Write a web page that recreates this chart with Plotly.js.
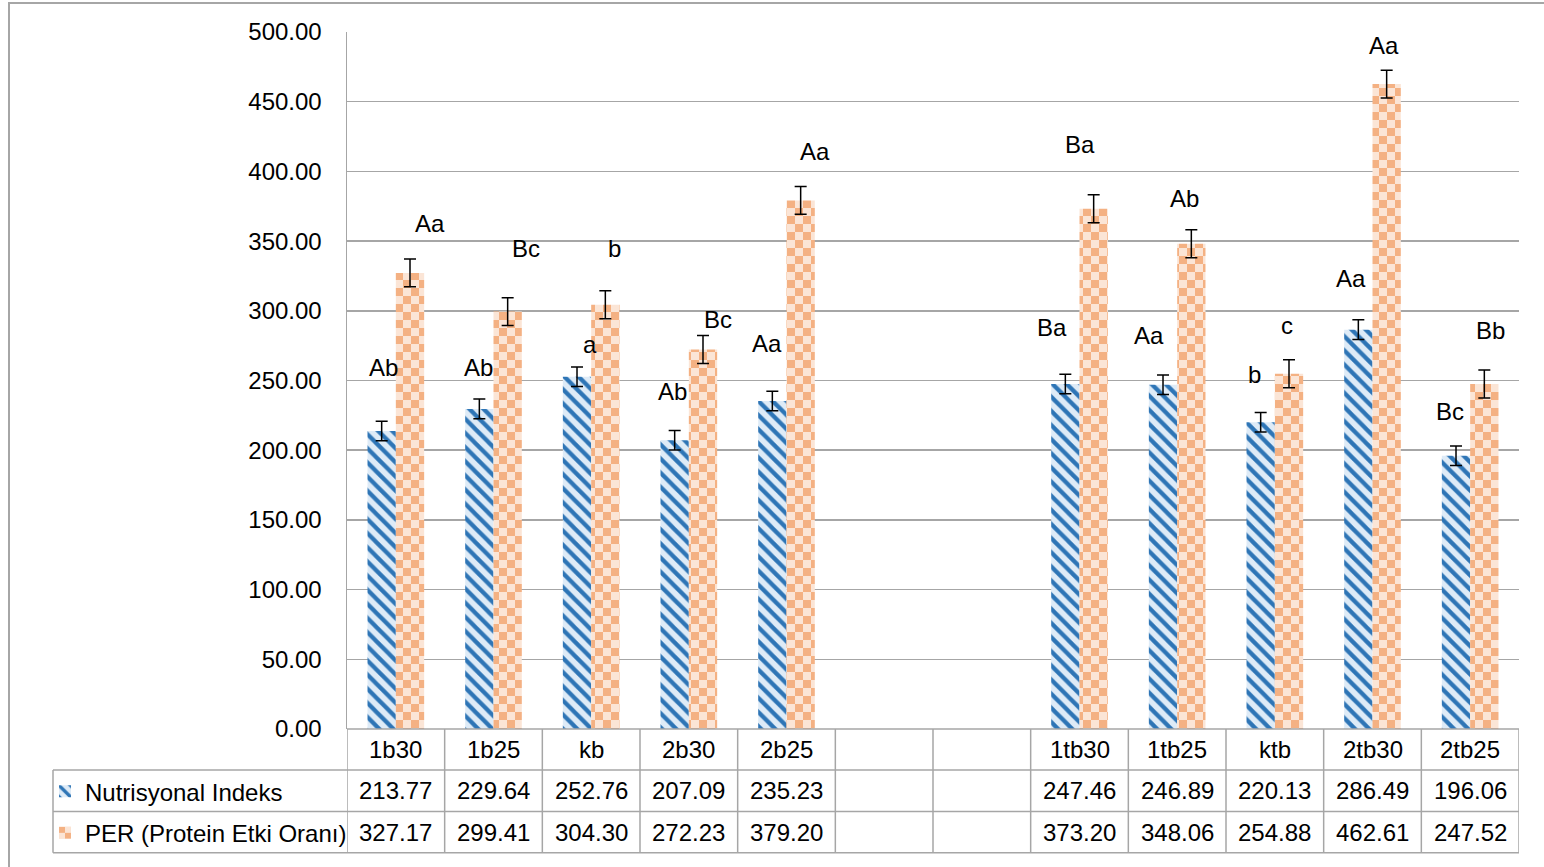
<!DOCTYPE html>
<html>
<head>
<meta charset="utf-8">
<script src="https://cdn.plot.ly/plotly-3.0.1.min.js"></script>
<style>
  html, body { margin: 0; padding: 0; background: #fff; }
  #chart { width: 1544px; height: 867px; }
</style>
</head>
<body>
<div id="chart"></div>
<script>
// Groups (two empty slots separate the "b" and "tb" sets)
const categories = ['1b30', '1b25', 'kb', '2b30', '2b25', '', '', '1tb30', '1tb25', 'ktb', '2tb30', '2tb25'];

const seriesNames = ['Nutrisyonal Indeks', 'PER (Protein Etki Oranı)'];

const nutriValues = [213.77, 229.64, 252.76, 207.09, 235.23, null, null, 247.46, 246.89, 220.13, 286.49, 196.06];
const perValues   = [327.17, 299.41, 304.30, 272.23, 379.20, null, null, 373.20, 348.06, 254.88, 462.61, 247.52];

const nutriErrors = [7, 7, 7, 7, 7, null, null, 7, 7, 7, 7, 7];
const perErrors   = [10, 10, 10, 10, 10, null, null, 10, 10, 10, 10, 10];

// Significance letters
const nutriLetters = ['Ab', 'Ab', 'a', 'Ab', 'Aa', '', '', 'Ba', 'Aa', 'b', 'Aa', 'Bc'];
const perLetters   = ['Aa', 'Bc', 'b', 'Bc', 'Aa', '', '', 'Ba', 'Ab', 'c', 'Aa', 'Bb'];

// Letter placement: [x offset in category units, y in axis units]
const nutriLetterPos = [[-0.13, 259], [-0.15, 259], [-0.01, 276], [-0.17, 242], [-0.20, 276.5], null, null,
                        [-0.28, 288], [-0.29, 282], [-0.21, 254], [-0.22, 323], [-0.21, 228]];
const perLetterPos   = [[0.35, 362.5], [0.33, 345], [0.24, 345], [0.30, 294], [0.29, 414], null, null,
                        [0.005, 419], [0.07, 380.5], [0.12, 289.5], [0.12, 490], [0.21, 286]];

// ---- geometry of the plotting area (pixels) ----
const FIG_W = 1544, FIG_H = 867;
const PL = 347, PR = 1519, PT = 32, PB = 730;
const PW = PR - PL, PH = PB - PT;
const px = v => (v - PL) / PW;      // pixel x -> paper x
const py = v => (PB - v) / PH;      // pixel y -> paper y

const FONT = 'Liberation Sans, Arial, sans-serif';
const GRID = '#A6A6A6';
const BLUE_FG = '#2E75B6', BLUE_BG = '#DEEBF7';
const ORANGE_FG = '#F4B183', ORANGE_BG = '#FBE5D6';

const xIdx = categories.map((_, i) => i);

const traces = [
  {
    type: 'bar', name: seriesNames[0], x: xIdx, y: nutriValues,
    marker: { color: BLUE_BG, line: { width: 0 },
      pattern: { shape: '\\', size: 10, solidity: 0.42, fgcolor: BLUE_FG, bgcolor: BLUE_BG, fillmode: 'replace' } },
    error_y: { type: 'data', array: nutriErrors, color: '#000', thickness: 1.5, width: 6 },
    legend: 'legend', hoverinfo: 'skip'
  },
  {
    type: 'bar', name: seriesNames[1], x: xIdx, y: perValues,
    marker: { color: ORANGE_BG, line: { width: 0 },
      pattern: { shape: '+', size: 16, solidity: 0.5, fgcolor: ORANGE_FG, bgcolor: ORANGE_BG, fillmode: 'replace' } },
    error_y: { type: 'data', array: perErrors, color: '#000', thickness: 1.5, width: 6 },
    legend: 'legend2', hoverinfo: 'skip'
  }
];

// ---- data table under the plot ----
const rowTop = [730, 771, 812.5, 854];      // header / series 1 / series 2 borders
const tableLeft = 53;
const shapes = [];
const lineStyle = { color: GRID, width: 1.5 };

// outer chart frame
shapes.push({ type: 'rect', xref: 'paper', yref: 'paper',
  x0: px(9), x1: px(FIG_W + 5), y0: py(3), y1: py(FIG_H + 5), line: { color: GRID, width: 2 } });

// horizontal rules
shapes.push({ type: 'line', xref: 'paper', yref: 'paper', x0: px(PL), x1: px(PR), y0: py(rowTop[0]), y1: py(rowTop[0]), line: lineStyle });
for (let r = 1; r < rowTop.length; r++) {
  shapes.push({ type: 'line', xref: 'paper', yref: 'paper', x0: px(tableLeft), x1: px(PR),
    y0: py(rowTop[r]), y1: py(rowTop[r]), line: lineStyle });
}
// left edge of the legend column
shapes.push({ type: 'line', xref: 'paper', yref: 'paper', x0: px(tableLeft), x1: px(tableLeft),
  y0: py(rowTop[1]), y1: py(rowTop[3]), line: lineStyle });
// column separators on category boundaries
for (let i = 0; i <= categories.length; i++) {
  shapes.push({ type: 'line', xref: 'x', yref: 'paper', x0: i - 0.5, x1: i - 0.5,
    y0: py(rowTop[0]), y1: py(rowTop[3]), line: lineStyle });
}

const annotations = [];
const cellFont = { family: FONT, size: 24, color: '#000' };
const rowMid = r => py((rowTop[r] + rowTop[r + 1]) / 2);
const cell = (i, r, text) => ({ xref: 'x', yref: 'paper', x: i, y: rowMid(r), text: text,
  showarrow: false, xanchor: 'center', yanchor: 'middle', font: cellFont });

categories.forEach((c, i) => {
  if (c) annotations.push(cell(i, 0, c));
  if (nutriValues[i] != null) annotations.push(cell(i, 1, nutriValues[i].toFixed(2)));
  if (perValues[i] != null) annotations.push(cell(i, 2, perValues[i].toFixed(2)));
});

// significance letters above the bars
function addLetters(letters, pos) {
  letters.forEach((t, i) => {
    if (!t || !pos[i]) return;
    annotations.push({ xref: 'x', yref: 'y', x: i + pos[i][0], y: pos[i][1], text: t,
      showarrow: false, xanchor: 'center', yanchor: 'middle', font: cellFont });
  });
}
addLetters(nutriLetters, nutriLetterPos);
addLetters(perLetters, perLetterPos);

const legendBase = {
  xref: 'paper', yref: 'paper', x: px(45), xanchor: 'left', yanchor: 'middle',
  bgcolor: 'rgba(0,0,0,0)', borderwidth: 0, font: { family: FONT, size: 24, color: '#000' }
};

const layout = {
  width: FIG_W, height: FIG_H,
  margin: { l: PL, r: FIG_W - PR, t: PT, b: FIG_H - PB, pad: 0 },
  paper_bgcolor: '#fff', plot_bgcolor: '#fff',
  font: { family: FONT, size: 24, color: '#000' },
  barmode: 'group', bargap: 0.42, bargroupgap: 0,
  showlegend: true,
  legend: Object.assign({}, legendBase, { y: rowMid(1) }),
  legend2: Object.assign({}, legendBase, { y: rowMid(2) }),
  xaxis: { range: [-0.5, categories.length - 0.5], showticklabels: false, showgrid: false,
    zeroline: false, showline: false, ticks: '', fixedrange: true },
  yaxis: { range: [0, 500], dtick: 50, tickformat: '.2f', showgrid: true, gridcolor: GRID, gridwidth: 1.5,
    zeroline: false, showline: true, linecolor: GRID, linewidth: 1.5, ticks: '',
    ticklabelstandoff: 19, tickfont: { family: FONT, size: 24, color: '#000' }, fixedrange: true },
  shapes: shapes,
  annotations: annotations
};

// Turn the orange "+" fill into a checkerboard tile
function checkerPatterns() {
  const SVGNS = 'http://www.w3.org/2000/svg';
  const orange = /244,\s*177,\s*131|f4b183/i;
  document.querySelectorAll('#chart pattern').forEach(p => {
    if (p.getAttribute('data-checker')) return;
    if (!orange.test(p.outerHTML)) return;
    while (p.firstChild) p.removeChild(p.firstChild);
    p.setAttribute('width', 16);
    p.setAttribute('height', 16);
    p.setAttribute('patternUnits', 'userSpaceOnUse');
    p.setAttribute('data-checker', '1');
    const add = (x, y, w, h, fill) => {
      const r = document.createElementNS(SVGNS, 'rect');
      r.setAttribute('x', x); r.setAttribute('y', y);
      r.setAttribute('width', w); r.setAttribute('height', h);
      r.setAttribute('fill', fill);
      p.appendChild(r);
    };
    add(0, 0, 16, 16, ORANGE_BG);
    add(0, 0, 8, 8, ORANGE_FG);
    add(8, 8, 8, 8, ORANGE_FG);
  });
}

const gd = document.getElementById('chart');
Plotly.newPlot(gd, traces, layout, { staticPlot: true, displayModeBar: false }).then(() => {
  checkerPatterns();
  gd.on('plotly_afterplot', checkerPatterns);
});
</script>
</body>
</html>
